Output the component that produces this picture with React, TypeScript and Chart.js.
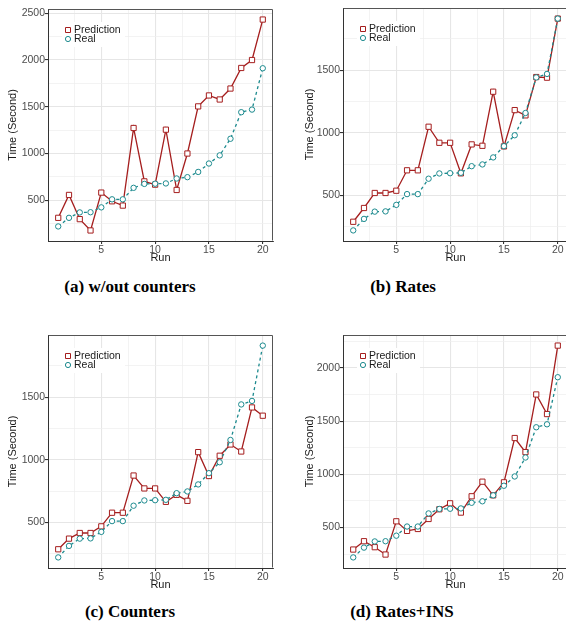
import React, { useEffect, useRef } from "react";
import { Chart, registerables } from "chart.js";

Chart.register(...registerables);

// ---------------- data ----------------
const runs = [1, 2, 3, 4, 5, 6, 7, 8, 9, 10, 11, 12, 13, 14, 15, 16, 17, 18, 19, 20];
const realTimes = [220, 312, 370, 372, 424, 510, 510, 633, 675, 677, 680, 733, 747, 803, 893, 980, 1158, 1442, 1470, 1912];
const predWithoutCounters = [312, 557, 298, 177, 582, 489, 443, 1273, 702, 667, 1255, 610, 1000, 1504, 1621, 1578, 1695, 1915, 2000, 2433];
const predRates = [289, 399, 519, 519, 537, 700, 700, 1048, 920, 920, 676, 907, 896, 1328, 891, 1181, 1139, 1445, 1440, 1912];
const predCounters = [285, 370, 415, 415, 468, 577, 577, 874, 771, 771, 664, 720, 672, 1061, 870, 1032, 1122, 1066, 1418, 1352];
const predRatesIns = [294, 372, 316, 247, 559, 469, 487, 581, 672, 728, 641, 794, 931, 803, 925, 1341, 1209, 1750, 1566, 2209];

const xMajorTicks = [5, 10, 15, 20];
const xMinorTicks = [2.5, 7.5, 12.5, 17.5];
const yMajorA = [500, 1000, 1500, 2000, 2500];
const yMinorA = [250, 750, 1250, 1750, 2250];
const yMajorBC = [500, 1000, 1500];
const yMinorBC = [250, 750, 1250, 1750];
const yMajorD = [500, 1000, 1500, 2000];
const yMinorD = [250, 750, 1250, 1750, 2250];

const seriesLabels = ["Prediction", "Real"];
const captions = ["(a) w/out counters", "(b) Rates", "(c) Counters", "(d) Rates+INS"];
const xTitle = "Run";
const yTitle = "Time (Second)";

// ---------------- styles ----------------
const RED = "#A51E1E";
const TEAL = "#1C8A8E";
const SANS = "'Liberation Sans', Arial, sans-serif";

const framePlugin = {
  id: "frame",
  afterDatasetsDraw(chart: any) {
    const { ctx, chartArea } = chart;
    const l = Math.round(chartArea.left) + 0.5;
    const t = Math.round(chartArea.top) + 0.5;
    const r = Math.round(chartArea.right) - 0.5;
    const b = Math.round(chartArea.bottom) - 0.5;
    ctx.save();
    ctx.strokeStyle = "#555555";
    ctx.lineWidth = 1;
    ctx.beginPath();
    ctx.moveTo(l, t);
    ctx.lineTo(r, t);
    ctx.lineTo(r, b);
    ctx.stroke();
    ctx.restore();
  },
};

const innerLegendPlugin = {
  id: "innerLegend",
  beforeDatasetsDraw(chart: any) {
    const { ctx, chartArea } = chart;
    const left = chartArea.left;
    const top = chartArea.top;
    ctx.save();
    ctx.fillStyle = "#ffffff";
    ctx.fillRect(left + 14, top + 13, 63, 25);
    const ds = chart.data.datasets;
    const rows = [
      { label: ds[0].label, color: RED, shape: "rect" },
      { label: ds[1].label, color: TEAL, shape: "circle" },
    ];
    rows.forEach((row, i) => {
      const cx = left + 20;
      const cy = top + 21 + i * 9;
      ctx.strokeStyle = row.color;
      ctx.lineWidth = 1;
      ctx.fillStyle = "#ffffff";
      ctx.beginPath();
      if (row.shape === "rect") {
        ctx.rect(cx - 2.5, cy - 2.5, 5, 5);
      } else {
        ctx.arc(cx, cy, 2.6, 0, Math.PI * 2);
      }
      ctx.fill();
      ctx.stroke();
      ctx.fillStyle = "#1a1a1a";
      ctx.font = `10.5px ${SANS}`;
      ctx.textBaseline = "middle";
      ctx.textAlign = "left";
      ctx.fillText(row.label, left + 26, cy + 0.5);
    });
    ctx.restore();
  },
};

type Box = {
  left: number;
  top: number;
  w: number;
  h: number;
  padT: number;
  padR: number;
  yW: number;
  yTitlePad: number;
};

function Panel({ pred, yMajor, yMinor, box }: { pred: number[]; yMajor: number[]; yMinor: number[]; box: Box }) {
  const ref = useRef<HTMLCanvasElement>(null);
  useEffect(() => {
    const all = pred.concat(realTimes);
    const lo = Math.min(...all);
    const hi = Math.max(...all);
    const ext = (hi - lo) * 0.05;
    const xAll = xMinorTicks.concat(xMajorTicks).sort((a, b) => a - b);
    const yAll = yMinor.concat(yMajor).sort((a, b) => a - b);

    const gridColor = (major: number[]) => (c: any) =>
      c.tick && major.includes(c.tick.value) ? "#E6E6E6" : "#EEEEEE";
    const gridWidth = (major: number[]) => (c: any) =>
      c.tick && major.includes(c.tick.value) ? 1.1 : 0.7;
    const tickColor = (major: number[]) => (c: any) =>
      c.tick && major.includes(c.tick.value) ? "#333333" : "rgba(0,0,0,0)";

    const chart = new Chart(ref.current as HTMLCanvasElement, {
      type: "line",
      data: {
        datasets: [
          {
            label: seriesLabels[0],
            data: runs.map((r, i) => ({ x: r, y: pred[i] })),
            borderColor: RED,
            backgroundColor: "#ffffff",
            borderWidth: 1.3,
            pointStyle: "rect",
            pointRadius: 3.7,
            pointBorderWidth: 1,
            pointBackgroundColor: "#ffffff",
            pointBorderColor: RED,
            order: 2,
          },
          {
            label: seriesLabels[1],
            data: runs.map((r, i) => ({ x: r, y: realTimes[i] })),
            borderColor: TEAL,
            backgroundColor: "#ffffff",
            borderWidth: 1.3,
            borderDash: [3, 3],
            pointStyle: "circle",
            pointRadius: 2.7,
            pointBorderWidth: 1,
            pointBackgroundColor: "#ffffff",
            pointBorderColor: TEAL,
            order: 1,
          },
        ],
      },
      options: {
        animation: false,
        responsive: false,
        devicePixelRatio: 1,
        layout: { padding: { left: 0, right: box.padR, top: box.padT, bottom: 0 } },
        plugins: { legend: { display: false }, tooltip: { enabled: false } },
        scales: {
          x: {
            type: "linear",
            min: 0.05,
            max: 20.95,
            afterBuildTicks: (ax: any) => {
              ax.ticks = xAll.map((v) => ({ value: v }));
            },
            afterFit: (s: any) => {
              s.height = 29;
            },
            ticks: {
              autoSkip: false,
              maxRotation: 0,
              padding: 0,
              color: "#4d4d4d",
              font: { family: SANS, size: 10.5 },
              callback: (v: any) => (xMajorTicks.includes(Number(v)) ? String(v) : ""),
            },
            grid: {
              color: gridColor(xMajorTicks),
              lineWidth: gridWidth(xMajorTicks),
              tickColor: tickColor(xMajorTicks),
              tickLength: 3,
              drawTicks: true,
            },
            border: { color: "#333333", width: 1 },
            title: {
              display: true,
              text: xTitle,
              color: "#1a1a1a",
              font: { family: SANS, size: 11 },
              padding: { top: 0, bottom: 5.4 },
            },
          },
          y: {
            type: "linear",
            min: lo - ext,
            max: hi + ext,
            afterBuildTicks: (ax: any) => {
              ax.ticks = yAll.map((v) => ({ value: v }));
            },
            afterFit: (s: any) => {
              s.width = box.yW;
            },
            ticks: {
              autoSkip: false,
              padding: 0,
              color: "#4d4d4d",
              font: { family: SANS, size: 10.5 },
              callback: (v: any) => (yMajor.includes(Number(v)) ? String(v) : ""),
            },
            grid: {
              color: gridColor(yMajor),
              lineWidth: gridWidth(yMajor),
              tickColor: tickColor(yMajor),
              tickLength: 3,
              drawTicks: true,
            },
            border: { color: "#333333", width: 1 },
            title: {
              display: true,
              text: yTitle,
              color: "#1a1a1a",
              font: { family: SANS, size: 11 },
              padding: { top: box.yTitlePad, bottom: 0 },
            },
          },
        },
      },
      plugins: [framePlugin, innerLegendPlugin],
    } as any);
    return () => chart.destroy();
  }, []);
  return (
    <canvas
      ref={ref}
      width={box.w}
      height={box.h}
      style={{ position: "absolute", left: box.left, top: box.top, width: box.w, height: box.h }}
    />
  );
}

const captionStyle = (cx: number, cy: number): React.CSSProperties => ({
  position: "absolute",
  left: cx - 130,
  top: cy - 9,
  width: 260,
  textAlign: "center",
  font: "bold 17px 'Liberation Serif', 'Times New Roman', serif",
  lineHeight: "18px",
  color: "#000",
  whiteSpace: "nowrap",
});

export default function App() {
  const boxA: Box = { left: 0, top: 0, w: 283, h: 270, padT: 9, padR: 10, yW: 48, yTitlePad: 6.7 };
  const boxB: Box = { left: 283, top: 0, w: 290, h: 270, padT: 8, padR: 5, yW: 60, yTitlePad: 20 };
  const boxC: Box = { left: 0, top: 326, w: 283, h: 271, padT: 9, padR: 10, yW: 48, yTitlePad: 6.7 };
  const boxD: Box = { left: 283, top: 326, w: 290, h: 271, padT: 9, padR: 5, yW: 60, yTitlePad: 20 };
  return (
    <div
      style={{
        position: "absolute",
        left: 0,
        top: 0,
        width: 566,
        height: 623,
        overflow: "hidden",
        background: "#fff",
      }}
    >
      <Panel pred={predWithoutCounters} yMajor={yMajorA} yMinor={yMinorA} box={boxA} />
      <Panel pred={predRates} yMajor={yMajorBC} yMinor={yMinorBC} box={boxB} />
      <Panel pred={predCounters} yMajor={yMajorBC} yMinor={yMinorBC} box={boxC} />
      <Panel pred={predRatesIns} yMajor={yMajorD} yMinor={yMinorD} box={boxD} />
      <div style={captionStyle(130, 286.5)}>{captions[0]}</div>
      <div style={captionStyle(403, 286.5)}>{captions[1]}</div>
      <div style={captionStyle(130, 611.5)}>{captions[2]}</div>
      <div style={captionStyle(402, 611.5)}>{captions[3]}</div>
    </div>
  );
}
